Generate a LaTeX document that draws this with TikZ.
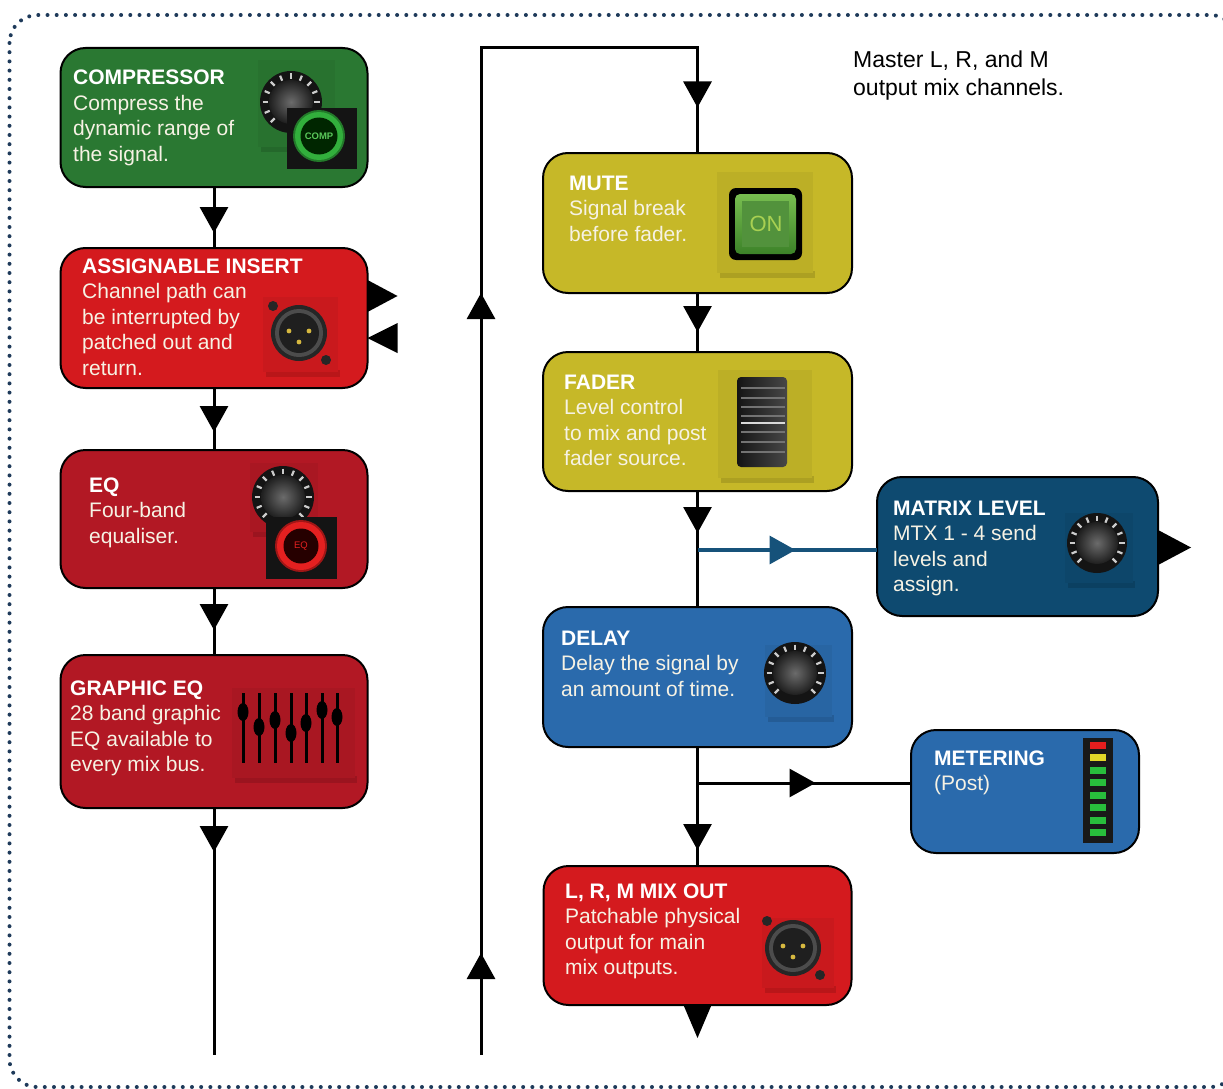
\documentclass[tikz,border=0pt]{standalone}
\usepackage{fontspec}
\setmainfont{Liberation Sans}
\usetikzlibrary{arrows.meta,decorations.markings}
\definecolor{cgreen}{RGB}{42,120,50}
\definecolor{cred}{RGB}{212,26,30}
\definecolor{cdred}{RGB}{178,24,36}
\definecolor{cyel}{RGB}{198,184,40}
\definecolor{cnavy}{RGB}{14,74,112}
\definecolor{cblue}{RGB}{42,106,172}
\definecolor{ctext}{RGB}{246,242,228}
\definecolor{cdots}{RGB}{30,58,90}
\definecolor{cline}{RGB}{22,82,122}
\definecolor{cgold}{RGB}{214,184,64}
\definecolor{ringgreen}{RGB}{50,175,60}
\definecolor{compgreen}{RGB}{90,200,90}
\definecolor{ringred}{RGB}{228,32,32}
\definecolor{ontop}{RGB}{120,190,80}
\definecolor{onbot}{RGB}{60,130,40}
\definecolor{oninner}{RGB}{82,146,60}
\definecolor{ontext}{RGB}{168,208,82}
\definecolor{ledgreen}{RGB}{40,190,60}
\definecolor{ledyellow}{RGB}{225,215,40}
\definecolor{ledred}{RGB}{230,30,30}
\newcommand\boxtext[1]{\begin{tabular}[t]{@{}l@{}}#1\end{tabular}}
\newcommand\knobicon[3]{%
  \fill[black!92] (#1,#2) circle (#3);
  \foreach \a in {135,157.5,...,405}
    \draw[black!20, line width=2.2pt] (#1,#2) ++(\a:#3-2.5) -- ++(\a:-5.5);
  \shade[inner color=black!58, outer color=black!88] (#1,#2) circle (#3-9);
}
\newcommand\iconpanel[5]{%
  \fill[#5!75!black, opacity=.5] (#1+3,#4-2) rectangle (#3+2,#4+5);
  \fill[#5!95!black] (#1,#2) rectangle (#3,#4);
}
\newcommand\xlricon[2]{%
  \fill[black!85] (#1,#2) circle (28);
  \fill[black!70] (#1,#2) circle (24);
  \fill[black!88] (#1,#2) circle (20);
  \fill[cgold] (#1-10,#2-2) circle (2.4);
  \fill[cgold] (#1+10,#2-2) circle (2.4);
  \fill[cgold] (#1,#2+9) circle (2.4);
  \fill[black!85] (#1-26,#2-27) circle (5);
  \fill[black!85] (#1+27,#2+27) circle (5);
}
\tikzset{
  tri/.tip={Triangle[width=28pt,length=26pt]},
  box/.style={draw=black, line width=2pt, rounded corners=25pt, inner sep=0pt, outer sep=0pt},
  txt/.style={anchor=base west, inner sep=0pt, text=ctext, font=\fontsize{21}{25.5}\selectfont},
  conn/.style={draw=black, line width=3pt},
  mk/.style={postaction={decorate}, decoration={markings, mark=at position #1 with {\arrow{tri}}}},
}
\begin{document}
\begin{tikzpicture}[x=1pt,y=-1pt]
\useasboundingbox (0,0) rectangle (1223,1089);
\clip (0,0) rectangle (1223,1089);
\fill[white] (0,0) rectangle (1223,1089);
% outer dotted frame
\draw[cdots, line width=4pt, line cap=round, dash pattern=on 0pt off 9.2pt, rounded corners=28pt] (9.5,15) rectangle (1238,1087);

% boxes
\node[box, fill=cgreen, minimum width=307pt, minimum height=139pt] (comp) at (214,117.5) {};
\node[box, fill=cred, minimum width=307pt, minimum height=140pt] (ins) at (214,318) {};
\node[box, fill=cdred, minimum width=307pt, minimum height=138pt] (eq) at (214,519) {};
\node[box, fill=cdred, minimum width=307pt, minimum height=153pt] (geq) at (214,731.5) {};
\node[box, fill=cyel, minimum width=309pt, minimum height=140pt] (mute) at (697.5,223) {};
\node[box, fill=cyel, minimum width=309pt, minimum height=139pt] (fader) at (697.5,421.5) {};
\node[box, fill=cnavy, minimum width=281pt, minimum height=139pt] (matrix) at (1017.5,546.5) {};
\node[box, fill=cblue, minimum width=309pt, minimum height=140pt] (delay) at (697.5,677) {};
\node[box, fill=cblue, minimum width=228pt, minimum height=123pt] (met) at (1025,791.5) {};
\node[box, fill=cred, minimum width=308pt, minimum height=139pt] (lrm) at (697.5,935.5) {};

% icon: compressor
\iconpanel{258}{60}{335}{147}{cgreen}
\knobicon{291}{102}{31}
\fill[black!92] (287,108) rectangle (357,169);
\fill[ringgreen!70!black] (319,136) circle (26);
\fill[ringgreen] (319,136) circle (24);
\fill[black!85!green] (319,136) circle (18.5);
\node[inner sep=0pt, font=\bfseries\fontsize{9.5}{10}\selectfont, text=compgreen] (complbl) at (319,136) {COMP};

% icon: insert
\iconpanel{263}{297}{338}{372}{cred}
\xlricon{299}{333}

% icon: eq
\iconpanel{250}{463}{318}{532}{cdred}
\knobicon{283}{497}{31}
\fill[black!92] (266,517) rectangle (337,579);
\fill[ringred!70!black] (301,546) circle (26);
\fill[ringred] (301,546) circle (24);
\fill[black!85!red] (301,546) circle (17.5);
\node[inner sep=0pt, font=\fontsize{9.5}{10}\selectfont, text=ringred] (eqlbl) at (301,546) {EQ};

% icon: graphic eq
\iconpanel{232}{688}{355}{778}{cdred}
\foreach \x/\y in {243/712, 259/727, 275/720, 291/733, 306/723, 322/710, 337/717} {
  \draw[black, line width=3pt] (\x,693) -- (\x,763);
  \fill[black] (\x,\y) ellipse (5.5 and 9);
}

% icon: mute
\iconpanel{717}{172}{813}{273}{cyel}
\fill[black, rounded corners=7pt] (729,188) rectangle (802,260);
\shade[top color=ontop, bottom color=onbot, rounded corners=5pt] (735,194) rectangle (796,254);
\fill[oninner] (742,201) rectangle (789,247);
\node[inner sep=0pt, font=\fontsize{22}{22}\selectfont, text=ontext] (onlbl) at (766,224) {ON};

% icon: fader
\iconpanel{718}{370}{812}{478}{cyel}
\shade[left color=black!92, right color=black!72, rounded corners=4pt] (737,377) rectangle (787,467);
\foreach \y in {388,398,407,416,432,442,452}
  \draw[black!55, line width=2pt] (741,\y) -- (785,\y);
\draw[white!85!black, line width=2pt] (741,423) -- (785,423);

% icon: matrix
\iconpanel{1065}{513}{1133}{583}{cnavy}
\knobicon{1097}{543}{30}

% icon: delay
\iconpanel{765}{645}{832}{717}{cblue}
\knobicon{795}{673}{31}

% icon: metering
\fill[black!90] (1083,738) rectangle (1113,843);
\fill[ledred] (1090,742) rectangle (1106,749);
\fill[ledyellow] (1090,754) rectangle (1106,761);
\foreach \y in {767,779,792,804,817,829}
  \fill[ledgreen] (1090,\y) rectangle (1106,\y+7);

% icon: mix out
\iconpanel{762}{918}{834}{988}{cred}
\xlricon{793}{948}

% texts
\node[txt] (compt) at (73,85) {\boxtext{\textbf{\color{white}COMPRESSOR}\\Compress the\\dynamic range of\\the signal.}};
\node[txt] (inst) at (82,273) {\boxtext{\textbf{\color{white}ASSIGNABLE INSERT}\\Channel path can\\be interrupted by\\patched out and\\return.}};
\node[txt] (eqt) at (89,492) {\boxtext{\textbf{\color{white}EQ}\\Four-band\\equaliser.}};
\node[txt] (geqt) at (70,695) {\boxtext{\textbf{\color{white}GRAPHIC EQ}\\28 band graphic\\EQ available to\\every mix bus.}};
\node[txt] (mutet) at (569,190) {\boxtext{\textbf{\color{white}MUTE}\\Signal break\\before fader.}};
\node[txt] (fadert) at (564,389) {\boxtext{\textbf{\color{white}FADER}\\Level control\\to mix and post\\fader source.}};
\node[txt] (matrixt) at (893,515) {\boxtext{\textbf{\color{white}MATRIX LEVEL}\\MTX 1 - 4 send\\levels and\\assign.}};
\node[txt] (delayt) at (561,645) {\boxtext{\textbf{\color{white}DELAY}\\Delay the signal by\\an amount of time.}};
\node[txt] (mett) at (934,765) {\boxtext{\textbf{\color{white}METERING}\\(Post)}};
\node[txt] (lrmt) at (565,898) {\boxtext{\textbf{\color{white}L, R, M MIX OUT}\\Patchable physical\\output for main\\mix outputs.}};
\node[anchor=base west, inner sep=0pt, font=\fontsize{23}{28}\selectfont, text=black] (master) at (853,68) {\boxtext{Master L, R, and M\\output mix channels.}};

% connectors
\coordinate (lb) at (214,1055);
\coordinate (rb) at (481,1055);
\coordinate (rt) at (481,48);
\coordinate (b1) at (697.5,550);
\coordinate (b2) at (697.5,783);
\draw[conn, mk=46pt] (comp.south) -- (ins.north);
\draw[conn, mk=44pt] (ins.south) -- (eq.north);
\draw[conn, mk=42pt] (eq.south) -- (geq.north);
\draw[conn, mk=44pt] (geq.south) -- (lb);
\draw[conn, postaction={decorate}, decoration={markings,
   mark=at position 102pt with {\arrow{tri}},
   mark=at position 762pt with {\arrow{tri}},
   mark=at position 1283pt with {\arrow{tri}}}]
   (rb) -- (rt) -| (mute.north);
\draw[conn, mk=39pt] (mute.south) -- (fader.north);
\draw[conn, mk=42pt] (fader.south) -- (delay.north);
\draw[cline, line width=3.5pt, mk=98pt] (b1) -- (b1 -| matrix.west);
\draw[conn, mk=103pt] (delay.south) -- (lrm.north);
\draw[conn, mk=118pt] (b2) -- (b2 -| met.west);
% free arrowheads
\fill[black] (ins.east) ++(0,-38) -- ++(30,16) -- ++(-30,16) -- cycle;
\fill[black] (ins.east) ++(30,5) -- ++(-30,15) -- ++(30,15) -- cycle;
\fill[black] (matrix.east) ++(1,-16) -- ++(32,17) -- ++(-32,17) -- cycle;
\fill[black] (lrm.south) ++(-14,0) -- ++(28,0) -- ++(-14,33) -- cycle;
\end{tikzpicture}
\end{document}
